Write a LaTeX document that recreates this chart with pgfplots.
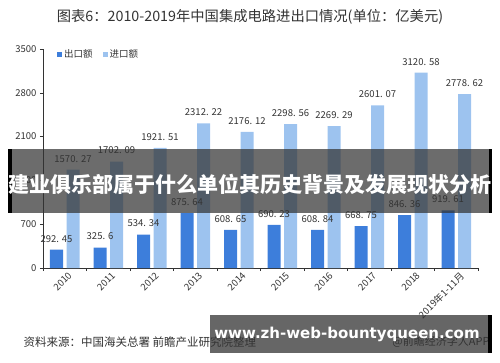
\documentclass[border=0pt]{standalone}
\usepackage{pgfplots}
\pgfplotsset{compat=1.18}
\usepackage{fontspec}
\setmainfont{Noto Sans CJK SC}
\newfontfamily\latinbold{DejaVu Sans}
\definecolor{exportc}{HTML}{3D7EDB}
\definecolor{importc}{HTML}{9DC3EF}
\definecolor{txt}{HTML}{333333}
\begin{document}
\begin{tikzpicture}[x=1pt,y=1pt]
\useasboundingbox (0,0) rectangle (500,362);
\node[text=txt, font=\fontsize{14.3}{16}\selectfont] at (250,345) {图表6：2010-2019年中国集成电路进出口情况(单位：亿美元)};
\begin{axis}[
  at={(43pt,94pt)}, anchor=south west,
  scale only axis, width=435pt, height=219pt,
  xmin=-0.5, xmax=9.5, ymin=0, ymax=3500,
  ytick={0,700,1400,2100,2800,3500},
  xtick={-0.5,0.5,...,9.5},
  xticklabels={},
  extra x ticks={0,1,2,3,4,5,6,7,8,9},
  extra x tick labels={2010,2011,2012,2013,2014,2015,2016,2017,2018,2019年1-11月},
  extra x tick style={major tick length=0pt, tick label style={rotate=45, anchor=north east, xshift=3pt, yshift=-1pt}},
  axis x line*=bottom, axis y line*=left,
  axis line style={color=black!80, line width=0.6pt},
  tick style={color=black!80, line width=0.6pt},
  tick align=outside, major tick length=3pt,
  tick label style={font=\fontsize{9.5}{11}\selectfont, text=txt},
  /pgf/number format/.cd, 1000 sep={}, assume math mode=true,
  /pgfplots/.cd,
  ybar=3.5pt, bar width=13pt,
  point meta=explicit symbolic,
  nodes near coords,
  every node near coord/.append style={font=\fontsize{9.5}{11}\selectfont, text=txt, yshift=4pt},
  legend style={draw=none, fill=none, at={(0.025,1.015)}, anchor=north west, font=\fontsize{9.5}{11}\selectfont, text=txt, legend columns=2, /tikz/every even column/.append style={column sep=8pt}},
  legend image code/.code={\fill[#1] (0pt,-2.5pt) rectangle (5pt,2.5pt);},
]
\addplot[fill=exportc, draw=none] coordinates {
 (0,292.45) [292. 45]
 (1,325.6) [325. 6]
 (2,534.34) [534. 34]
 (3,875.64) [875. 64]
 (4,608.65) [608. 65]
 (5,690.23) [690. 23]
 (6,608.84) [608. 84]
 (7,668.75) [668. 75]
 (8,846.36) [846. 36]
 (9,919.61) [919. 61]
};
\addplot[fill=importc, draw=none] coordinates {
 (0,1570.27) [1570. 27]
 (1,1702.09) [1702. 09]
 (2,1921.51) [1921. 51]
 (3,2312.22) [2312. 22]
 (4,2176.12) [2176. 12]
 (5,2298.56) [2298. 56]
 (6,2269.29) [2269. 29]
 (7,2601.07) [2601. 07]
 (8,3120.58) [3120. 58]
 (9,2778.62) [2778. 62]
};
\legend{出口额,进口额}
\end{axis}
\node[anchor=west, text=txt, font=\fontsize{11.5}{13}\selectfont] at (20,20) {资料来源：中国海关总署 前瞻产业研究院整理};
\node[anchor=east, text=txt, font=\fontsize{11}{13}\selectfont] at (493,20) {@前瞻经济学人APP};
% overlay banners
\fill[black!80, opacity=0.72] (8,149) rectangle (492,213);
\fill[black] (8,149) rectangle (12,213);
\fill[black] (489,149) rectangle (492,213);
\node[text=white, font=\fontsize{21}{24}\selectfont\bfseries] at (250,178) {建业俱乐部属于什么单位其历史背景及发展现状分析};
\fill[black!80, opacity=0.75] (210,9) rectangle (492,47);
\fill[black] (488,9) rectangle (492,47);
\node[text=white, font=\latinbold\fontsize{15}{18}\selectfont\bfseries] at (347,28) {www.zh-web-bountyqueen.com};
\end{tikzpicture}
\end{document}
